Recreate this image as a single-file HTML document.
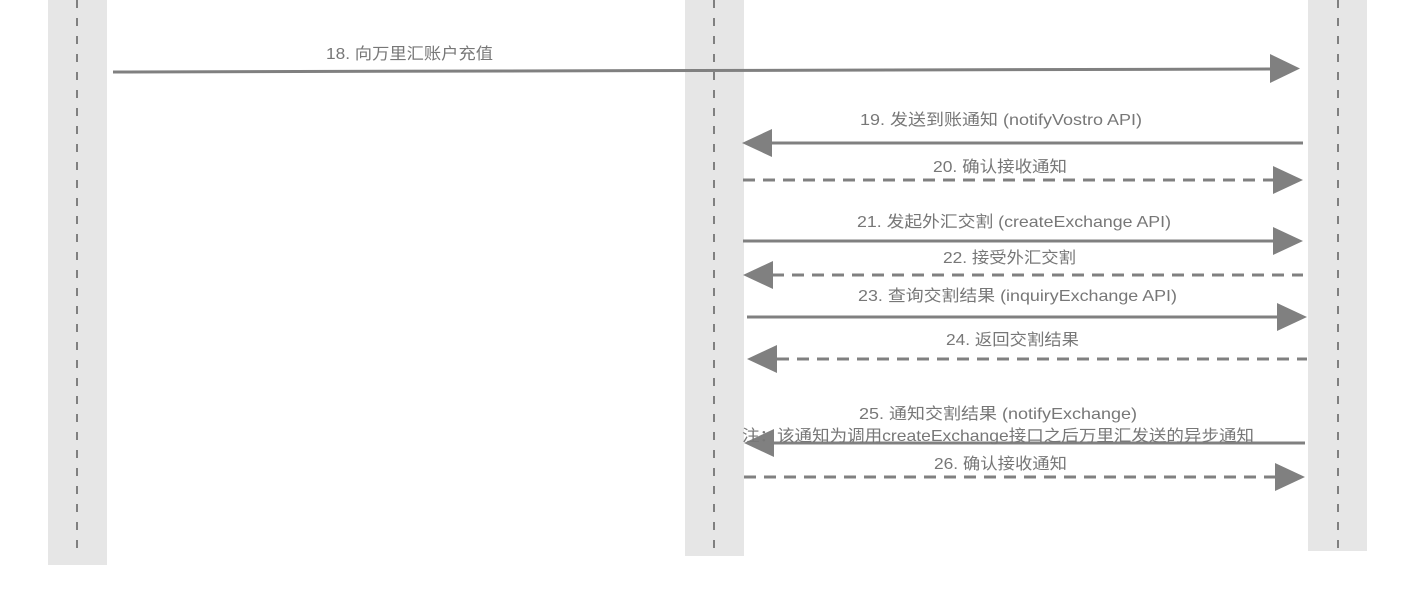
<!DOCTYPE html>
<html><head><meta charset="utf-8"><style>
html,body{margin:0;padding:0;background:#fff;width:1413px;height:603px;overflow:hidden}
text{font-family:"Liberation Sans","Noto Sans CJK SC",sans-serif;font-size:16px;fill:#777}
</style></head><body>
<svg width="1413" height="603" xmlns="http://www.w3.org/2000/svg">
<rect x="48" y="0" width="59" height="565" fill="#e6e6e6"/>
<rect x="685" y="0" width="59" height="556" fill="#e6e6e6"/>
<rect x="1308" y="0" width="59" height="551" fill="#e6e6e6"/>
<g stroke="#808080" stroke-width="2" stroke-dasharray="8,10">
<line x1="77" y1="0" x2="77" y2="552"/>
<line x1="714" y1="0" x2="714" y2="552"/>
<line x1="1338" y1="0" x2="1338" y2="548"/>
</g>
<g stroke="#808080" stroke-width="3" fill="none">
<line x1="113" y1="72" x2="1272" y2="69"/>
<line x1="772" y1="143" x2="1303" y2="143"/>
<line x1="743" y1="180" x2="1275" y2="180" stroke-dasharray="12,8"/>
<line x1="743" y1="241" x2="1275" y2="241"/>
<line x1="772" y1="275" x2="1303" y2="275" stroke-dasharray="12,8"/>
<line x1="747" y1="317" x2="1279" y2="317"/>
<line x1="777" y1="359" x2="1307" y2="359" stroke-dasharray="12,8"/>
<line x1="774" y1="443" x2="1305" y2="443"/>
<line x1="744" y1="477" x2="1277" y2="477" stroke-dasharray="12,8"/>
</g>
<g fill="#808080">
<polygon points="1270,54 1300,68.5 1270,83"/>
<polygon points="772,129 742,143 772,157"/>
<polygon points="1273,166 1303,180 1273,194"/>
<polygon points="1273,227 1303,241 1273,255"/>
<polygon points="773,261 743,275 773,289"/>
<polygon points="1277,303 1307,317 1277,331"/>
<polygon points="777,345 747,359 777,373"/>
<polygon points="774,429 744,443 774,457"/>
<polygon points="1275,463 1305,477 1275,491"/>
</g>
<g>
<text x="326" y="59" textLength="167" lengthAdjust="spacingAndGlyphs">18. 向万里汇账户充值</text>
<text x="860" y="125" textLength="282" lengthAdjust="spacingAndGlyphs">19. 发送到账通知 (notifyVostro API)</text>
<text x="933" y="172" textLength="134" lengthAdjust="spacingAndGlyphs">20. 确认接收通知</text>
<text x="857" y="227" textLength="314" lengthAdjust="spacingAndGlyphs">21. 发起外汇交割 (createExchange API)</text>
<text x="943" y="263" textLength="133" lengthAdjust="spacingAndGlyphs">22. 接受外汇交割</text>
<text x="858" y="301" textLength="319" lengthAdjust="spacingAndGlyphs">23. 查询交割结果 (inquiryExchange API)</text>
<text x="946" y="345" textLength="133" lengthAdjust="spacingAndGlyphs">24. 返回交割结果</text>
<text x="859" y="419" textLength="278" lengthAdjust="spacingAndGlyphs">25. 通知交割结果 (notifyExchange)</text>
<text x="742" y="441" textLength="512" lengthAdjust="spacingAndGlyphs">注：该通知为调用createExchange接口之后万里汇发送的异步通知</text>
<text x="934" y="469" textLength="133" lengthAdjust="spacingAndGlyphs">26. 确认接收通知</text>
</g>
</svg>
</body></html>
